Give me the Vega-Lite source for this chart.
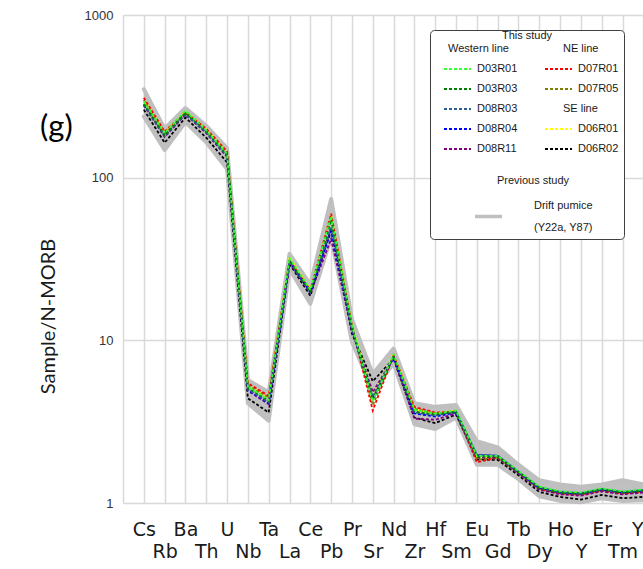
{
  "$schema": "https://vega.github.io/schema/vega-lite/v6.json",
  "width": 520,
  "height": 488,
  "autosize": {"type": "none"},
  "padding": {"left": 123, "top": 15, "right": 0, "bottom": 66},
  "background": "white",
  "title": {
    "text": "(g)",
    "anchor": "start",
    "frame": "group",
    "orient": "top",
    "offset": 0,
    "dx": -83,
    "dy": 150,
    "baseline": "middle",
    "font": "Lato",
    "fontSize": 31,
    "fontWeight": "normal",
    "color": "#000000"
  },
  "datasets": {
    "drift": [
      {"b":"hi","e":"Cs","v":350},{"b":"hi","e":"Rb","v":200},{"b":"hi","e":"Ba","v":268},{"b":"hi","e":"Th","v":208},{"b":"hi","e":"U","v":152},{"b":"hi","e":"Nb","v":5.7},{"b":"hi","e":"Ta","v":4.8},{"b":"hi","e":"La","v":34},{"b":"hi","e":"Ce","v":22},{"b":"hi","e":"Pb","v":74},{"b":"hi","e":"Pr","v":13.5},{"b":"hi","e":"Sr","v":6.2},{"b":"hi","e":"Nd","v":8.9},{"b":"hi","e":"Zr","v":4.1},{"b":"hi","e":"Hf","v":3.9},{"b":"hi","e":"Sm","v":4.0},{"b":"hi","e":"Eu","v":2.4},{"b":"hi","e":"Gd","v":2.2},{"b":"hi","e":"Tb","v":1.72},{"b":"hi","e":"Dy","v":1.38},{"b":"hi","e":"Ho","v":1.3},{"b":"hi","e":"Y","v":1.26},{"b":"hi","e":"Er","v":1.3},{"b":"hi","e":"Tm","v":1.38},{"b":"hi","e":"Yb","v":1.3},{"b":"hi","e":"Lu","v":1.3},
      {"b":"lo","e":"Cs","v":238},{"b":"lo","e":"Rb","v":148},{"b":"lo","e":"Ba","v":220},{"b":"lo","e":"Th","v":165},{"b":"lo","e":"U","v":113},{"b":"lo","e":"Nb","v":4.1},{"b":"lo","e":"Ta","v":3.2},{"b":"lo","e":"La","v":27.5},{"b":"lo","e":"Ce","v":16.8},{"b":"lo","e":"Pb","v":43},{"b":"lo","e":"Pr","v":9.8},{"b":"lo","e":"Sr","v":4.9},{"b":"lo","e":"Nd","v":7.2},{"b":"lo","e":"Zr","v":3.05},{"b":"lo","e":"Hf","v":2.85},{"b":"lo","e":"Sm","v":3.35},{"b":"lo","e":"Eu","v":1.72},{"b":"lo","e":"Gd","v":1.72},{"b":"lo","e":"Tb","v":1.4},{"b":"lo","e":"Dy","v":1.1},{"b":"lo","e":"Ho","v":1.03},{"b":"lo","e":"Y","v":1.01},{"b":"lo","e":"Er","v":1.07},{"b":"lo","e":"Tm","v":1.03},{"b":"lo","e":"Yb","v":1.04},{"b":"lo","e":"Lu","v":1.05}
    ],
    "samples": [
      {"s":"D06R02","e":"Cs","v":262},{"s":"D06R02","e":"Rb","v":164},{"s":"D06R02","e":"Ba","v":234},{"s":"D06R02","e":"Th","v":176},{"s":"D06R02","e":"U","v":124},{"s":"D06R02","e":"Nb","v":4.4},{"s":"D06R02","e":"Ta","v":3.6},{"s":"D06R02","e":"La","v":29.5},{"s":"D06R02","e":"Ce","v":18.8},{"s":"D06R02","e":"Pb","v":49},{"s":"D06R02","e":"Pr","v":11},{"s":"D06R02","e":"Sr","v":5.6},{"s":"D06R02","e":"Nd","v":7.7},{"s":"D06R02","e":"Zr","v":3.35},{"s":"D06R02","e":"Hf","v":3.1},{"s":"D06R02","e":"Sm","v":3.5},{"s":"D06R02","e":"Eu","v":1.85},{"s":"D06R02","e":"Gd","v":1.84},{"s":"D06R02","e":"Tb","v":1.48},{"s":"D06R02","e":"Dy","v":1.17},{"s":"D06R02","e":"Ho","v":1.09},{"s":"D06R02","e":"Y","v":1.05},{"s":"D06R02","e":"Er","v":1.12},{"s":"D06R02","e":"Tm","v":1.07},{"s":"D06R02","e":"Yb","v":1.09},{"s":"D06R02","e":"Lu","v":1.1},
      {"s":"D06R01","e":"Cs","v":305},{"s":"D06R01","e":"Rb","v":190},{"s":"D06R01","e":"Ba","v":256},{"s":"D06R01","e":"Th","v":198},{"s":"D06R01","e":"U","v":142},{"s":"D06R01","e":"Nb","v":5.3},{"s":"D06R01","e":"Ta","v":4.4},{"s":"D06R01","e":"La","v":32.5},{"s":"D06R01","e":"Ce","v":20.5},{"s":"D06R01","e":"Pb","v":59},{"s":"D06R01","e":"Pr","v":12.4},{"s":"D06R01","e":"Sr","v":4.5},{"s":"D06R01","e":"Nd","v":8.2},{"s":"D06R01","e":"Zr","v":3.75},{"s":"D06R01","e":"Hf","v":3.55},{"s":"D06R01","e":"Sm","v":3.7},{"s":"D06R01","e":"Eu","v":1.9},{"s":"D06R01","e":"Gd","v":1.92},{"s":"D06R01","e":"Tb","v":1.55},{"s":"D06R01","e":"Dy","v":1.24},{"s":"D06R01","e":"Ho","v":1.16},{"s":"D06R01","e":"Y","v":1.14},{"s":"D06R01","e":"Er","v":1.21},{"s":"D06R01","e":"Tm","v":1.16},{"s":"D06R01","e":"Yb","v":1.19},{"s":"D06R01","e":"Lu","v":1.2},
      {"s":"D07R05","e":"Cs","v":300},{"s":"D07R05","e":"Rb","v":186},{"s":"D07R05","e":"Ba","v":250},{"s":"D07R05","e":"Th","v":196},{"s":"D07R05","e":"U","v":141},{"s":"D07R05","e":"Nb","v":5.3},{"s":"D07R05","e":"Ta","v":4.45},{"s":"D07R05","e":"La","v":31},{"s":"D07R05","e":"Ce","v":20},{"s":"D07R05","e":"Pb","v":57},{"s":"D07R05","e":"Pr","v":12.1},{"s":"D07R05","e":"Sr","v":4.0},{"s":"D07R05","e":"Nd","v":8.0},{"s":"D07R05","e":"Zr","v":3.8},{"s":"D07R05","e":"Hf","v":3.55},{"s":"D07R05","e":"Sm","v":3.6},{"s":"D07R05","e":"Eu","v":1.85},{"s":"D07R05","e":"Gd","v":1.9},{"s":"D07R05","e":"Tb","v":1.53},{"s":"D07R05","e":"Dy","v":1.22},{"s":"D07R05","e":"Ho","v":1.15},{"s":"D07R05","e":"Y","v":1.13},{"s":"D07R05","e":"Er","v":1.2},{"s":"D07R05","e":"Tm","v":1.15},{"s":"D07R05","e":"Yb","v":1.18},{"s":"D07R05","e":"Lu","v":1.19},
      {"s":"D07R01","e":"Cs","v":310},{"s":"D07R01","e":"Rb","v":192},{"s":"D07R01","e":"Ba","v":252},{"s":"D07R01","e":"Th","v":200},{"s":"D07R01","e":"U","v":145},{"s":"D07R01","e":"Nb","v":5.45},{"s":"D07R01","e":"Ta","v":4.55},{"s":"D07R01","e":"La","v":31},{"s":"D07R01","e":"Ce","v":20.3},{"s":"D07R01","e":"Pb","v":60},{"s":"D07R01","e":"Pr","v":12.3},{"s":"D07R01","e":"Sr","v":3.7},{"s":"D07R01","e":"Nd","v":8.1},{"s":"D07R01","e":"Zr","v":3.9},{"s":"D07R01","e":"Hf","v":3.6},{"s":"D07R01","e":"Sm","v":3.65},{"s":"D07R01","e":"Eu","v":1.78},{"s":"D07R01","e":"Gd","v":1.9},{"s":"D07R01","e":"Tb","v":1.54},{"s":"D07R01","e":"Dy","v":1.22},{"s":"D07R01","e":"Ho","v":1.14},{"s":"D07R01","e":"Y","v":1.12},{"s":"D07R01","e":"Er","v":1.19},{"s":"D07R01","e":"Tm","v":1.14},{"s":"D07R01","e":"Yb","v":1.17},{"s":"D07R01","e":"Lu","v":1.18},
      {"s":"D08R11","e":"Cs","v":278},{"s":"D08R11","e":"Rb","v":178},{"s":"D08R11","e":"Ba","v":244},{"s":"D08R11","e":"Th","v":188},{"s":"D08R11","e":"U","v":134},{"s":"D08R11","e":"Nb","v":4.9},{"s":"D08R11","e":"Ta","v":4.05},{"s":"D08R11","e":"La","v":30},{"s":"D08R11","e":"Ce","v":19.5},{"s":"D08R11","e":"Pb","v":42},{"s":"D08R11","e":"Pr","v":11.5},{"s":"D08R11","e":"Sr","v":4.8},{"s":"D08R11","e":"Nd","v":7.8},{"s":"D08R11","e":"Zr","v":3.3},{"s":"D08R11","e":"Hf","v":3.25},{"s":"D08R11","e":"Sm","v":3.55},{"s":"D08R11","e":"Eu","v":1.9},{"s":"D08R11","e":"Gd","v":1.9},{"s":"D08R11","e":"Tb","v":1.52},{"s":"D08R11","e":"Dy","v":1.21},{"s":"D08R11","e":"Ho","v":1.13},{"s":"D08R11","e":"Y","v":1.11},{"s":"D08R11","e":"Er","v":1.18},{"s":"D08R11","e":"Tm","v":1.13},{"s":"D08R11","e":"Yb","v":1.16},{"s":"D08R11","e":"Lu","v":1.17},
      {"s":"D08R04","e":"Cs","v":282},{"s":"D08R04","e":"Rb","v":181},{"s":"D08R04","e":"Ba","v":247},{"s":"D08R04","e":"Th","v":190},{"s":"D08R04","e":"U","v":136},{"s":"D08R04","e":"Nb","v":4.95},{"s":"D08R04","e":"Ta","v":4.1},{"s":"D08R04","e":"La","v":30.5},{"s":"D08R04","e":"Ce","v":19.7},{"s":"D08R04","e":"Pb","v":47},{"s":"D08R04","e":"Pr","v":11.7},{"s":"D08R04","e":"Sr","v":4.4},{"s":"D08R04","e":"Nd","v":7.9},{"s":"D08R04","e":"Zr","v":3.55},{"s":"D08R04","e":"Hf","v":3.4},{"s":"D08R04","e":"Sm","v":3.6},{"s":"D08R04","e":"Eu","v":1.97},{"s":"D08R04","e":"Gd","v":1.95},{"s":"D08R04","e":"Tb","v":1.55},{"s":"D08R04","e":"Dy","v":1.24},{"s":"D08R04","e":"Ho","v":1.16},{"s":"D08R04","e":"Y","v":1.14},{"s":"D08R04","e":"Er","v":1.21},{"s":"D08R04","e":"Tm","v":1.16},{"s":"D08R04","e":"Yb","v":1.19},{"s":"D08R04","e":"Lu","v":1.2},
      {"s":"D08R03","e":"Cs","v":280},{"s":"D08R03","e":"Rb","v":180},{"s":"D08R03","e":"Ba","v":246},{"s":"D08R03","e":"Th","v":190},{"s":"D08R03","e":"U","v":136},{"s":"D08R03","e":"Nb","v":5.0},{"s":"D08R03","e":"Ta","v":4.15},{"s":"D08R03","e":"La","v":30.5},{"s":"D08R03","e":"Ce","v":19.8},{"s":"D08R03","e":"Pb","v":50},{"s":"D08R03","e":"Pr","v":11.8},{"s":"D08R03","e":"Sr","v":4.5},{"s":"D08R03","e":"Nd","v":7.9},{"s":"D08R03","e":"Zr","v":3.6},{"s":"D08R03","e":"Hf","v":3.45},{"s":"D08R03","e":"Sm","v":3.65},{"s":"D08R03","e":"Eu","v":1.98},{"s":"D08R03","e":"Gd","v":1.96},{"s":"D08R03","e":"Tb","v":1.56},{"s":"D08R03","e":"Dy","v":1.25},{"s":"D08R03","e":"Ho","v":1.17},{"s":"D08R03","e":"Y","v":1.15},{"s":"D08R03","e":"Er","v":1.22},{"s":"D08R03","e":"Tm","v":1.17},{"s":"D08R03","e":"Yb","v":1.2},{"s":"D08R03","e":"Lu","v":1.21},
      {"s":"D03R03","e":"Cs","v":285},{"s":"D03R03","e":"Rb","v":182},{"s":"D03R03","e":"Ba","v":250},{"s":"D03R03","e":"Th","v":192},{"s":"D03R03","e":"U","v":138},{"s":"D03R03","e":"Nb","v":5.1},{"s":"D03R03","e":"Ta","v":4.25},{"s":"D03R03","e":"La","v":31},{"s":"D03R03","e":"Ce","v":20},{"s":"D03R03","e":"Pb","v":55},{"s":"D03R03","e":"Pr","v":12},{"s":"D03R03","e":"Sr","v":4.3},{"s":"D03R03","e":"Nd","v":8.0},{"s":"D03R03","e":"Zr","v":3.65},{"s":"D03R03","e":"Hf","v":3.5},{"s":"D03R03","e":"Sm","v":3.65},{"s":"D03R03","e":"Eu","v":1.93},{"s":"D03R03","e":"Gd","v":1.93},{"s":"D03R03","e":"Tb","v":1.55},{"s":"D03R03","e":"Dy","v":1.24},{"s":"D03R03","e":"Ho","v":1.16},{"s":"D03R03","e":"Y","v":1.14},{"s":"D03R03","e":"Er","v":1.21},{"s":"D03R03","e":"Tm","v":1.16},{"s":"D03R03","e":"Yb","v":1.19},{"s":"D03R03","e":"Lu","v":1.2},
      {"s":"D03R01","e":"Cs","v":295},{"s":"D03R01","e":"Rb","v":188},{"s":"D03R01","e":"Ba","v":258},{"s":"D03R01","e":"Th","v":196},{"s":"D03R01","e":"U","v":140},{"s":"D03R01","e":"Nb","v":5.2},{"s":"D03R01","e":"Ta","v":4.3},{"s":"D03R01","e":"La","v":32},{"s":"D03R01","e":"Ce","v":20.5},{"s":"D03R01","e":"Pb","v":58},{"s":"D03R01","e":"Pr","v":12.4},{"s":"D03R01","e":"Sr","v":4.2},{"s":"D03R01","e":"Nd","v":8.2},{"s":"D03R01","e":"Zr","v":3.75},{"s":"D03R01","e":"Hf","v":3.55},{"s":"D03R01","e":"Sm","v":3.7},{"s":"D03R01","e":"Eu","v":1.95},{"s":"D03R01","e":"Gd","v":1.95},{"s":"D03R01","e":"Tb","v":1.57},{"s":"D03R01","e":"Dy","v":1.26},{"s":"D03R01","e":"Ho","v":1.18},{"s":"D03R01","e":"Y","v":1.16},{"s":"D03R01","e":"Er","v":1.23},{"s":"D03R01","e":"Tm","v":1.18},{"s":"D03R01","e":"Yb","v":1.21},{"s":"D03R01","e":"Lu","v":1.22}
    ]
  },
  "encoding": {
    "x": {
      "field": "e",
      "type": "nominal",
      "sort": ["Cs","Rb","Ba","Th","U","Nb","Ta","La","Ce","Pb","Pr","Sr","Nd","Zr","Hf","Sm","Eu","Gd","Tb","Dy","Ho","Y","Er","Tm","Yb","Lu"],
      "scale": {
        "type": "point",
        "domain": ["Cs","Rb","Ba","Th","U","Nb","Ta","La","Ce","Pb","Pr","Sr","Nd","Zr","Hf","Sm","Eu","Gd","Tb","Dy","Ho","Y","Er","Tm","Yb","Lu"],
        "padding": 1,
        "range": [0, 562]
      },
      "axis": {
        "title": null,
        "domain": false,
        "ticks": false,
        "grid": true,
        "gridColor": "#d9d9d9",
        "gridWidth": 1.5,
        "labelAngle": 0,
        "labelFont": "DejaVu Sans",
        "labelFontSize": 19,
        "labelColor": "#1a1a1a",
        "labelPadding": 17,
        "labelBaseline": "top",
        "labelLineHeight": 22,
        "labelOverlap": false,
        "labelBound": false,
        "labelFlush": false,
        "labelExpr": "indexof(['Rb','Th','Nb','La','Pb','Sr','Zr','Sm','Gd','Dy','Y','Tm','Lu'], datum.value) >= 0 ? ['', datum.label] : datum.label",
        "encode": {
          "grid": {"update": {"strokeOpacity": {"signal": "indexof(['U','Pb','Hf','Dy','Yb'], datum.value) >= 0 ? 1 : 0"}}},
          "labels": {"update": {"dy": {"signal": "datum.value === 'Hf' ? 4 : datum.value === 'Dy' ? -4 : 0"}}}
        }
      }
    }
  },
  "layer": [
    {
      "data": {"name": "drift"},
      "transform": [{"pivot": "b", "value": "v", "groupby": ["e"]}],
      "mark": {"type": "area", "color": "#c0c0c0", "opacity": 1},
      "encoding": {
        "y": {"field": "lo", "type": "quantitative", "scale": {"type": "log", "domain": [1, 1000]}, "axis": {"title": "Sample/N-MORB", "values": [1, 10, 100, 1000], "format": "d"}},
        "y2": {"field": "hi"}
      }
    },
    {
      "data": {"name": "drift"},
      "mark": {"type": "line", "strokeWidth": 4, "strokeCap": "round", "strokeJoin": "round"},
      "encoding": {
        "y": {"field": "v", "type": "quantitative", "scale": {"type": "log", "domain": [1, 1000]}, "axis": {"title": "Sample/N-MORB", "values": [1, 10, 100, 1000], "format": "d"}},
        "detail": {"field": "b"},
        "color": {
          "datum": "Drift pumice",
          "type": "nominal",
          "scale": {"domain": ["Drift pumice"], "range": ["#bfbfbf"]},
          "legend": {
            "title": "Previous study",
            "orient": "none",
            "legendX": 350,
            "legendY": 160,
            "zindex": 2,
            "padding": 0,
            "symbolType": "stroke",
            "symbolSize": 729,
            "symbolStrokeWidth": 3.5,
            "labelOffset": 30,
            "labelExpr": "['Drift pumice', '(Y22a, Y87)']",
            "labelFont": "Liberation Sans",
            "labelFontSize": 11,
            "labelColor": "#1a1a1a",
            "titleFont": "Liberation Sans",
            "titleFontSize": 11,
            "titleFontWeight": "normal",
            "titleColor": "#1a1a1a",
            "titleAnchor": "middle",
            "titlePadding": 15,
            "encode": {
              "labels": {"update": {"lineHeight": {"value": 22}, "dy": {"value": -11}}}
            }
          }
        }
      }
    },
    {
      "data": {"name": "samples"},
      "mark": {"type": "line", "strokeWidth": 1.8, "strokeDash": [3, 2]},
      "encoding": {
        "y": {"field": "v", "type": "quantitative", "scale": {"type": "log", "domain": [1, 1000]}, "axis": {"title": "Sample/N-MORB", "values": [1, 10, 100, 1000], "format": "d"}},
        "color": {
          "field": "s",
          "type": "nominal",
          "sort": null,
          "scale": {
            "domain": ["Western line","D03R01","D03R03","D08R03","D08R04","D08R11","b1","b2","b3","b4","NE line","D07R01","D07R05","SE line","D06R01","D06R02","c1","c2","c3","c4"],
            "range": ["transparent","#33ff33","#008000","#2f5f8f","#0000ff","#800080","transparent","transparent","transparent","transparent","transparent","#ff0000","#808000","transparent","#ffff00","#000000","transparent","transparent","transparent","transparent"]
          },
          "legend": {
            "title": "This study",
            "orient": "none",
            "legendX": 307,
            "legendY": 15,
            "zindex": 1,
            "columns": 2,
            "columnPadding": 13,
            "rowPadding": 5,
            "symbolType": "M-1.5,0H1.5",
            "symbolSize": 324,
            "symbolStrokeWidth": 1.8,
            "symbolDash": [3, 2],
            "symbolFillColor": "transparent",
            "symbolOffset": 17.5,
            "labelOffset": 9.5,
            "labelFont": "Liberation Sans",
            "labelFontSize": 11,
            "labelColor": "#1a1a1a",
            "labelExpr": "indexof(['c1','c2','c3','c4'], datum.value) >= 0 ? 'MMMMM' : indexof(['b1','b2','b3','b4'], datum.value) >= 0 ? 'M' : datum.label",
            "titleFont": "Liberation Sans",
            "titleFontSize": 11,
            "titleFontWeight": "normal",
            "titleColor": "#1a1a1a",
            "titleAnchor": "middle",
            "titlePadding": -2,
            "strokeColor": "#404040",
            "fillColor": "white",
            "cornerRadius": 4,
            "padding": 0,
            "encode": {
              "labels": {"update": {
                "dx": {"signal": "datum.value === 'Western line' ? -29 : (datum.value === 'NE line' || datum.value === 'SE line') ? -15 : 0"},
                "fontSize": {"signal": "datum.value === 'b4' ? 19 : 11"},
                "opacity": {"signal": "indexof(['b1','b2','b3','b4','c1','c2','c3','c4'], datum.value) >= 0 ? 0 : 1"}
              }}
            }
          }
        }
      }
    }
  ],
  "resolve": {"scale": {"color": "independent"}},
  "config": {
    "view": {"stroke": null},
    "axisY": {
      "grid": true,
      "gridColor": "#d9d9d9",
      "gridWidth": 1.5,
      "domainColor": "#d9d9d9",
      "domainWidth": 1.5,
      "ticks": false,
      "labelFont": "Liberation Sans",
      "labelFontSize": 13,
      "labelColor": "#333333",
      "labelPadding": 10,
      "titleFont": "Lato",
      "titleFontSize": 20,
      "titleFontWeight": "normal",
      "titleColor": "#1a1a1a",
      "titleAngle": -90,
      "titleX": -75,
      "titleY": 301,
      "titleAlign": "center",
      "titleBaseline": "middle"
    }
  }
}
